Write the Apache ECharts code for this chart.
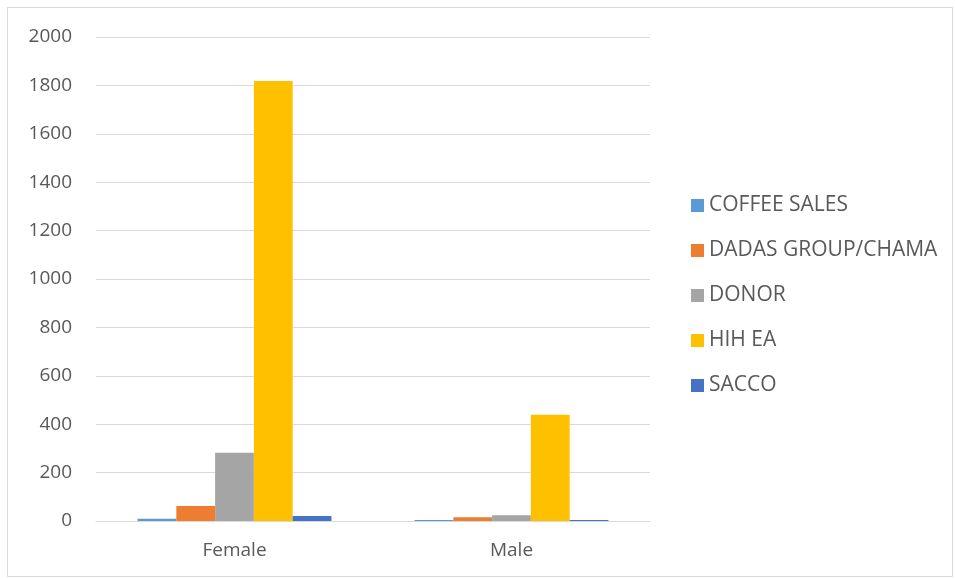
<!DOCTYPE html>
<html>
<head>
<meta charset="utf-8">
<script src="https://cdn.jsdelivr.net/npm/echarts@6/dist/echarts.min.js"></script>
<style>
    html, body {margin:0;padding:0;background:#fff;}
    #chart {position:absolute;left:0;top:0;width:955px;height:579px;}
    .frame {position:absolute;left:7px;top:7px;width:946px;height:570px;border:1px solid #d9d9d9;box-sizing:border-box;}
</style>
</head>
<body>
<div class="frame"></div>
<div id="chart"></div>
<script>
    var categories = ['Female', 'Male'];
    var seriesNames = ['COFFEE SALES', 'DADAS GROUP/CHAMA', 'DONOR', 'HIH EA', 'SACCO'];
    var coffeeSales = [9, 4];
    var dadasGroup = [62, 15];
    var donor = [282, 24];
    var hihEa = [1818, 439];
    var sacco = [21, 4];
    var colors = ['#5B9BD5', '#ED7D31', '#A5A5A5', '#FFC000', '#4472C4'];

    var chart = echarts.init(document.getElementById('chart'));
    var values = [coffeeSales, dadasGroup, donor, hihEa, sacco];
    var series = seriesNames.map(function (name, i) {
        return {
            name: name,
            type: 'bar',
            data: values[i],
            barGap: 0,
            barCategoryGap: '30%',
            itemStyle: {color: colors[i]}
        };
    });

    chart.setOption({
        animation: false,
        textStyle: {fontFamily: 'Open Sans'},
        grid: {left: 96, right: 305, top: 37, bottom: 58},
        legend: {
            orient: 'vertical',
            left: 686,
            top: 190,
            itemWidth: 13,
            itemHeight: 13,
            itemGap: 24,
            icon: 'rect',
            textStyle: {fontSize: 21, color: '#595959', fontFamily: 'Open Sans'},
            data: seriesNames
        },
        xAxis: {
            type: 'category',
            data: categories,
            axisLine: {lineStyle: {color: '#d9d9d9', width: 1}},
            axisTick: {show: false},
            axisLabel: {fontSize: 19, color: '#595959', margin: 20}
        },
        yAxis: {
            type: 'value',
            min: 0,
            max: 2000,
            interval: 200,
            axisLine: {show: false},
            axisTick: {show: false},
            splitLine: {lineStyle: {color: '#d9d9d9'}},
            axisLabel: {fontSize: 19, color: '#595959', margin: 24, formatter: function (v) { return String(v); }}
        },
        series: series
    });
</script>
</body>
</html>
